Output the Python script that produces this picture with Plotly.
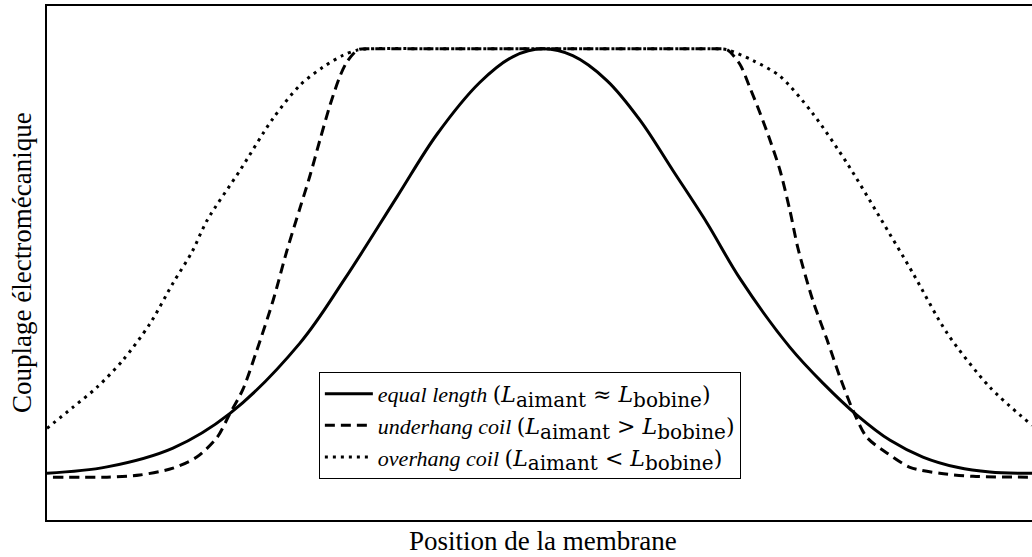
import plotly.graph_objects as go

# Membrane position (arbitrary units, 0 = rest position) and normalised coupling
x_equal = [-10.0, -8.79, -7.46, -6.31, -4.90, -3.99, -2.94, -2.14, -1.27, -0.60, 0.0,
           0.60, 1.29, 1.96, 2.62, 3.31, 3.97, 4.98, 5.65, 6.33, 7.00, 7.66, 8.35, 9.01, 9.86]
y_equal = [0.009, 0.024, 0.068, 0.149, 0.313, 0.464, 0.655, 0.800, 0.922, 0.982, 1.000,
           0.984, 0.926, 0.833, 0.716, 0.593, 0.464, 0.303, 0.219, 0.145, 0.086, 0.047, 0.023, 0.012, 0.009]

x_under = [-9.88, -8.79, -8.13, -7.46, -6.98, -6.57, -6.31, -6.05, -5.77, -5.44, -5.16, -4.90,
           -4.70, -4.50, -4.29, -4.09, -3.95, -3.73, -3.50, -2.0, 0.0, 2.0, 3.50, 3.71,
           3.97, 4.17, 4.38, 4.58, 4.78, 4.98, 5.14, 5.44, 5.73, 5.99, 6.25, 6.53, 6.94, 7.40,
           8.00, 8.67, 9.86]
y_under = [0.0, 0.0, 0.005, 0.021, 0.047, 0.093, 0.149, 0.205, 0.296, 0.413, 0.530, 0.628,
           0.703, 0.786, 0.870, 0.937, 0.970, 0.998, 1.0, 1.0, 1.0, 1.0, 1.0, 0.998,
           0.964, 0.910, 0.849, 0.786, 0.716, 0.622, 0.535, 0.413, 0.320, 0.233, 0.156, 0.093, 0.056, 0.023,
           0.009, 0.002, 0.0]

x_over = [-10.0, -9.48, -8.99, -8.47, -7.92, -7.46, -7.08, -6.77, -6.11, -5.44, -4.90, -4.44,
          -4.03, -3.75, -3.50, -2.0, 0.0, 2.0, 3.50, 3.71, 4.23, 4.78, 5.44, 6.13, 6.79, 7.46, 8.15,
          9.01, 9.86]
y_over = [0.114, 0.163, 0.210, 0.273, 0.359, 0.453, 0.525, 0.600, 0.716, 0.838, 0.915, 0.957,
          0.985, 0.997, 1.0, 1.0, 1.0, 1.0, 1.0, 0.998, 0.973, 0.936, 0.849, 0.733, 0.607, 0.476, 0.336,
          0.210, 0.121]

FONT = "Liberation Serif"
MATH_FONT = "DejaVu Serif"


def relation(op):
    """Legend formula: L_aimant <op> L_bobine, with roman subscripts."""
    sub = '<sub><span style="font-size:20px">{}</span></sub>'
    lhs = "<i>L</i>" + sub.format("aimant")
    rhs = "<i>L</i>" + sub.format("bobine")
    return (f'<span style="font-family:{MATH_FONT}">'
            f"({lhs}&nbsp;{op}&nbsp;{rhs})</span>")


names = [
    "<i>equal length</i> " + relation("≈"),
    "<i>underhang coil</i> " + relation("&gt;"),
    "<i>overhang coil</i> " + relation("&lt;"),
]

fig = go.Figure()
fig.add_trace(go.Scatter(x=x_equal, y=y_equal, mode="lines", name=names[0],
                         line=dict(color="black", width=3, shape="spline", smoothing=1.0)))
fig.add_trace(go.Scatter(x=x_under, y=y_under, mode="lines", name=names[1],
                         line=dict(color="black", width=3, dash="10px,6px", shape="spline", smoothing=0.8)))
fig.add_trace(go.Scatter(x=x_over, y=y_over, mode="lines", name=names[2],
                         line=dict(color="black", width=3, dash="3px,5px", shape="spline", smoothing=0.8)))

fig.update_layout(
    width=1032, height=557,
    margin=dict(l=47, r=0, t=6, b=37),
    plot_bgcolor="white", paper_bgcolor="white",
    font=dict(family=FONT, color="black", size=22),
    showlegend=True,
    legend=dict(x=0.276, y=0.288, xanchor="left", yanchor="top",
                bgcolor="white", bordercolor="black", borderwidth=1,
                font=dict(family=FONT, size=22, color="black"),
                itemwidth=48, tracegroupgap=0),
    xaxis=dict(range=[-10.0, 9.86], showline=True, mirror=True, linecolor="black", linewidth=1.5,
               showgrid=False, zeroline=False, showticklabels=False, ticks=""),
    yaxis=dict(range=[-0.10, 1.10], showline=True, mirror=False, linecolor="black", linewidth=1.5,
               showgrid=False, zeroline=False, showticklabels=False, ticks=""),
    annotations=[
        dict(text="Position de la membrane", xref="x", yref="paper", x=0.0, y=0,
             xanchor="center", yanchor="top", yshift=-4, showarrow=False,
             font=dict(family=FONT, size=27, color="black")),
        dict(text="Couplage électromécanique", xref="paper", yref="paper", x=0, y=0.5,
             xanchor="right", yanchor="middle", xshift=-8, textangle=-90, showarrow=False,
             font=dict(family=FONT, size=27, color="black")),
    ],
)

fig.write_html("out.html")
